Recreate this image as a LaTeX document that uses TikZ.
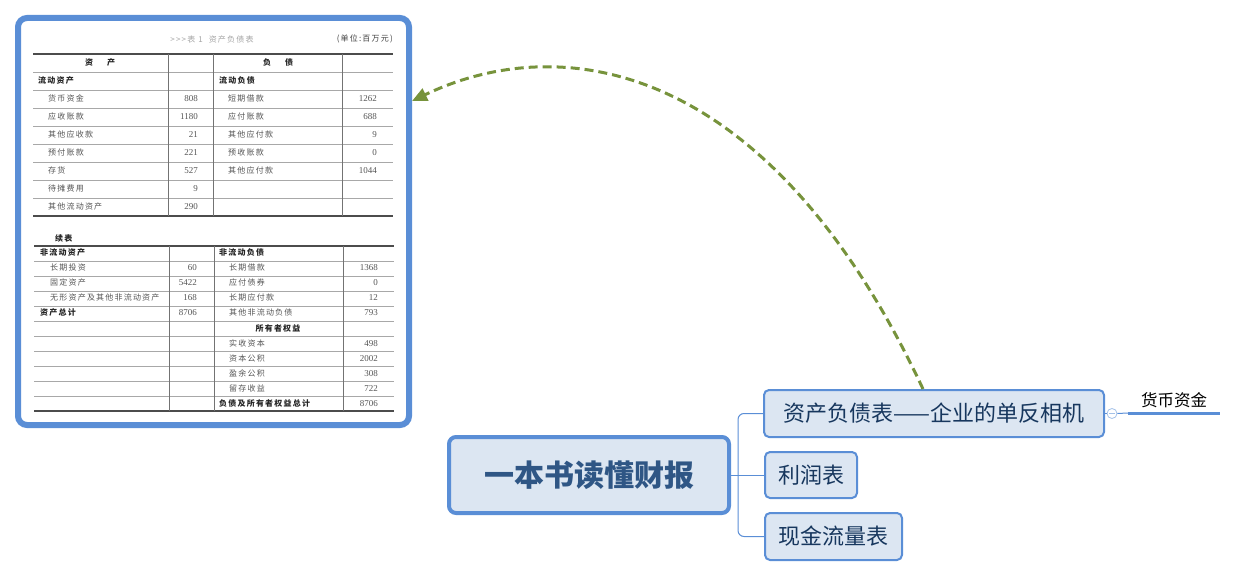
\documentclass[tikz,border=0pt]{standalone}
\usepackage{fontspec}
\usetikzlibrary{arrows.meta}
\setmainfont{Liberation Serif}
\newfontfamily\cjk{Noto Sans CJK SC}
\newfontfamily\tblcjk[LetterSpace=15]{Noto Sans CJK SC}

\definecolor{frameblue}{HTML}{5A8ED6}
\definecolor{topicfill}{HTML}{DCE6F2}
\definecolor{roottext}{HTML}{2F5685}
\definecolor{topictext}{HTML}{17375E}
\definecolor{linkgreen}{HTML}{77933C}
\definecolor{cellgray}{HTML}{555555}
\definecolor{rulegray}{HTML}{A8A8A8}

\begin{document}
\begin{tikzpicture}[x=1pt,y=-1pt,
  tblframe/.style={draw=frameblue, line width=6pt, rounded corners=9pt, fill=white,
    minimum width=391pt, minimum height=407pt, inner sep=0pt},
  heavyrule/.style={draw=black!70, line width=1.4pt},
  hrule/.style={draw=rulegray, line width=0.9pt},
  vrule/.style={draw=black!55, line width=0.8pt},
  cell/.style={inner sep=0pt, text height=6pt, text depth=1pt, text=cellgray,
    font=\tblcjk\fontsize{8}{9}\selectfont},
  headcell/.style={inner sep=0pt, text height=6pt, text depth=1pt, text=black!85,
    font=\tblcjk\bfseries\fontsize{8}{9}\selectfont},
  num/.style={inner sep=0pt, text height=6pt, text depth=1pt, text=cellgray,
    font=\fontsize{9}{10}\selectfont},
  root/.style={draw=frameblue, line width=4pt, rounded corners=7pt, fill=topicfill,
    minimum width=280pt, minimum height=76pt, inner sep=0pt, text=roottext,
    font=\cjk\bfseries\fontsize{30}{34}\selectfont},
  topic/.style={draw=frameblue, line width=2pt, rounded corners=5pt, fill=topicfill,
    minimum height=47pt, inner sep=0pt, text=topictext,
    font=\cjk\fontsize{22}{26}\selectfont},
  conn/.style={draw=frameblue, line width=1pt},
  fold/.style={circle, draw=frameblue!55, fill=white, line width=0.8pt,
    minimum size=10pt, inner sep=0pt},
  leaf/.style={inner sep=0pt, outer sep=0pt, minimum width=92pt, minimum height=25pt,
    text=black, font=\cjk\fontsize{16.5}{19}\selectfont},
  leafline/.style={draw=frameblue, line width=3pt},
  link/.style={draw=linkgreen, line width=3pt, dash pattern=on 9pt off 5pt,
    -{Triangle[length=15pt,width=13pt]}}
]
\useasboundingbox (0,0) rectangle (1237,577);

% ---------- balance sheet picture ----------
\node[tblframe] (tbl) at (213.5,221.5) {};

\node[inner sep=0pt, text=black!35, font=\tblcjk\fontsize{8}{9}\selectfont]
  (ttl) at (212,39) {>{}>{}>表 1\hspace{6pt}资产负债表};
\node[inner sep=0pt, anchor=east, text=black!75, font=\tblcjk\fontsize{8}{9}\selectfont]
  (unit) at (393,39) {(单位:百万元)};

% upper table rules
\draw[heavyrule] (33,54) -- (393,54);
\foreach \yy in {72,90,...,198} \draw[hrule] (33,\yy) -- (393,\yy);
\draw[heavyrule] (33,216) -- (393,216);
\foreach \xx in {168,213,342} \draw[vrule] (\xx,54) -- (\xx,216);

% upper table text
\node[headcell] (hl) at (100,63) {资\hspace{14pt}产};
\node[headcell] (hr) at (278,63) {负\hspace{14pt}债};
\node[headcell, anchor=west] (ca) at (38,81) {流动资产};
\node[headcell, anchor=west] (cl) at (219,81) {流动负债};
\foreach \lab/\val [count=\i from 2] in
  {货币资金/808, 应收账款/1180, 其他应收款/21, 预付账款/221, 存货/527, 待摊费用/9, 其他流动资产/290}{
  \node[cell, anchor=west] (al\i) at (48,{63+18*\i}) {\lab};
  \node[num, anchor=east] (av\i) at (198,{63+18*\i}) {\val};
}
\foreach \lab/\val [count=\i from 2] in
  {短期借款/1262, 应付账款/688, 其他应付款/9, 预收账款/0, 其他应付款/1044}{
  \node[cell, anchor=west] (bl\i) at (228,{63+18*\i}) {\lab};
  \node[num, anchor=east] (bv\i) at (377,{63+18*\i}) {\val};
}

% continued table
\node[headcell, anchor=west] (cont) at (55,239) {续表};
\draw[heavyrule] (34,246) -- (394,246);
\foreach \yy in {261,276,...,396} \draw[hrule] (34,\yy) -- (394,\yy);
\draw[heavyrule] (34,411) -- (394,411);
\foreach \xx in {169,214,343} \draw[vrule] (\xx,246) -- (\xx,411);

\node[headcell, anchor=west] (nca) at (40,253.5) {非流动资产};
\node[headcell, anchor=west] (ncl) at (219,253.5) {非流动负债};
\foreach \lab/\val [count=\j from 1] in
  {长期投资/60, 固定资产/5422, 无形资产及其他非流动资产/168}{
  \node[cell, anchor=west] (cl\j) at (50,{253.5+15*\j}) {\lab};
  \node[num, anchor=east] (cv\j) at (197,{253.5+15*\j}) {\val};
}
\node[headcell, anchor=west] (tot) at (40,313.5) {资产总计};
\node[num, anchor=east] (totv) at (197,313.5) {8706};
\foreach \lab/\val [count=\j from 1] in
  {长期借款/1368, 应付债券/0, 长期应付款/12, 其他非流动负债/793}{
  \node[cell, anchor=west] (dl\j) at (229,{253.5+15*\j}) {\lab};
  \node[num, anchor=east] (dv\j) at (378,{253.5+15*\j}) {\val};
}
\node[headcell] (eq) at (278,328.5) {所有者权益};
\foreach \lab/\val [count=\j from 6] in
  {实收资本/498, 资本公积/2002, 盈余公积/308, 留存收益/722}{
  \node[cell, anchor=west] (el\j) at (229,{253.5+15*\j}) {\lab};
  \node[num, anchor=east] (ev\j) at (378,{253.5+15*\j}) {\val};
}
\node[headcell, anchor=west] (gt) at (219,403.5) {负债及所有者权益总计};
\node[num, anchor=east] (gtv) at (378,403.5) {8706};

% ---------- mind map ----------
\node[root] (root) at (589,475) {一本书读懂财报};
\node[topic, minimum width=340pt] (c1) at (934,413.5) {资产负债表——企业的单反相机};
\node[topic, minimum width=92pt, minimum height=46pt] (c2) at (811,475) {利润表};
\node[topic, minimum width=137pt] (c3) at (833.5,536.5) {现金流量表};

\coordinate (fork) at (738,475);
\draw[conn] (root.east) -- (c2.west);
\draw[conn, rounded corners=6pt] (c1.west) -| (fork) |- (c3.west);

\node[fold] (fold) at (1112,413.5) {};
\draw[draw=frameblue!55, line width=0.8pt] ([xshift=-3pt]fold.center) -- ([xshift=3pt]fold.center);
\draw[conn] (c1.east) -- (fold.west);

\node[leaf] (leaf) at (1174,400.5) {货币资金};
\draw[conn] (fold.east) -- (leaf.south west);
\draw[leafline] (leaf.south west) -- (leaf.south east);

% relation arrow back to the sheet
\draw[link] ([xshift=-11pt]c1.north) .. controls (768,58) and (560,30) .. ([yshift=120.5pt]tbl.east);
\end{tikzpicture}
\end{document}
